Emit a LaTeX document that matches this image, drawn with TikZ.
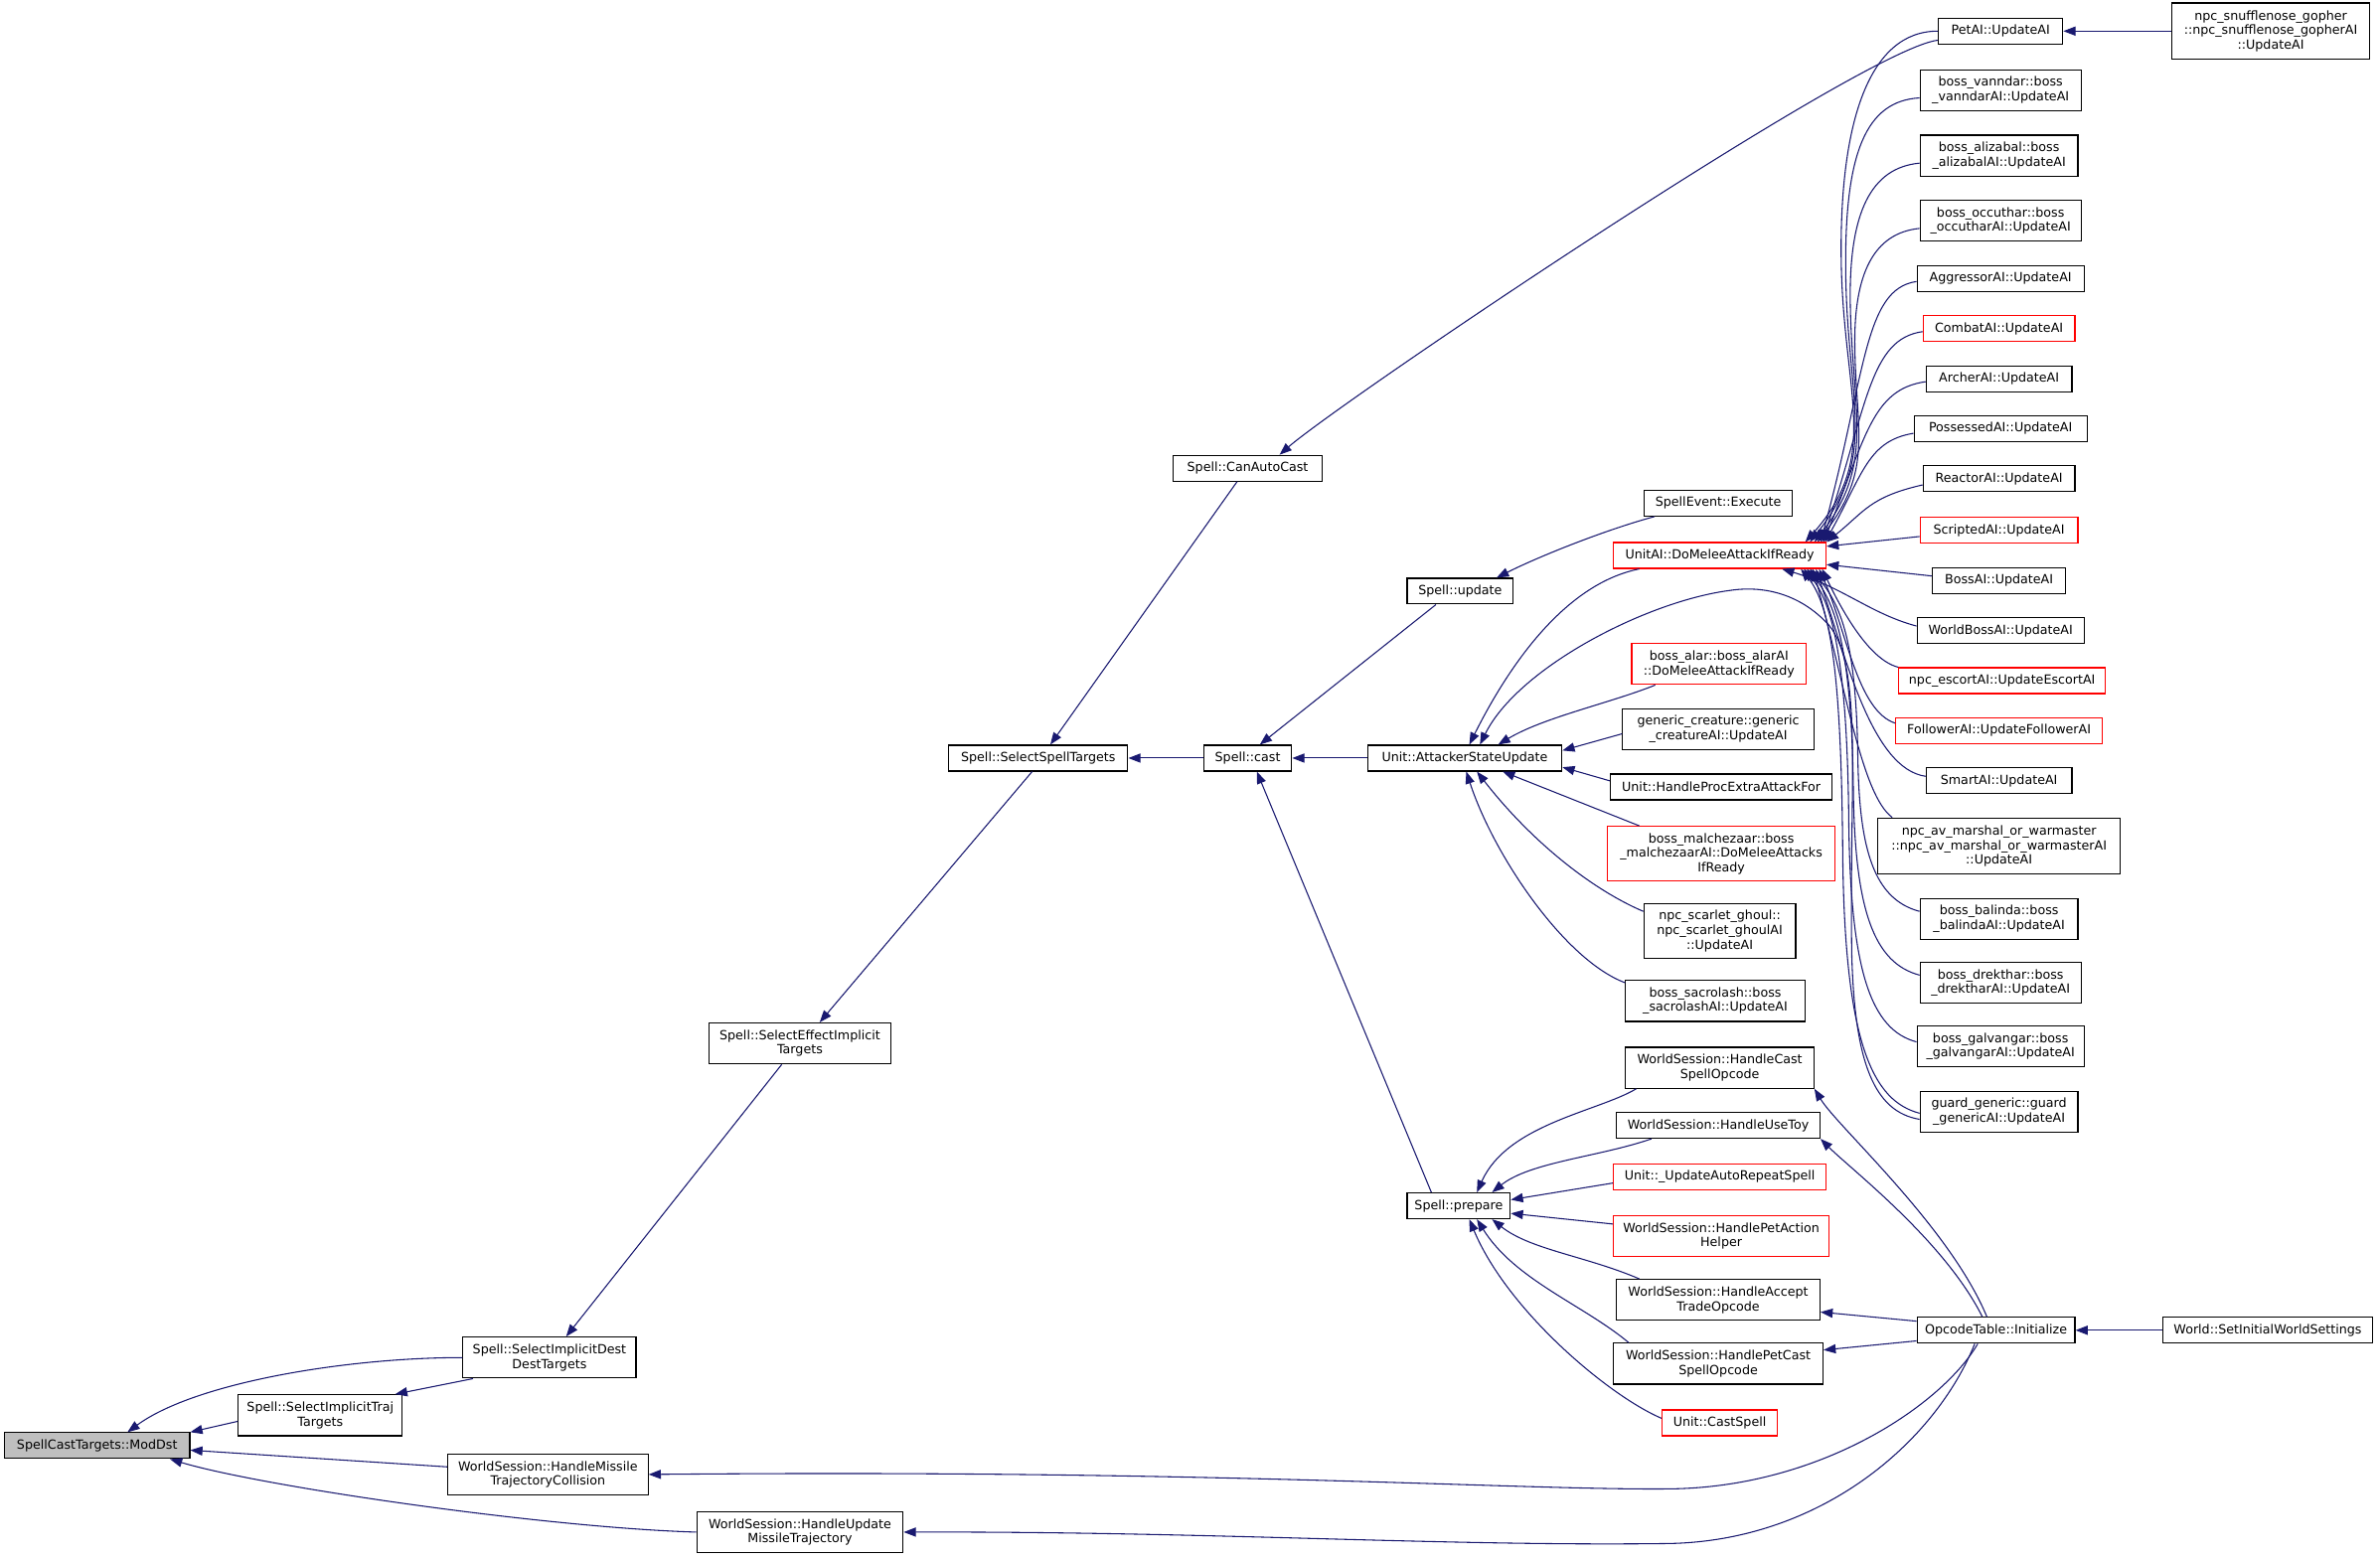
\documentclass[tikz,border=0pt]{standalone}
\usepackage{fontspec}
\setmainfont{DejaVu Sans}
\usetikzlibrary{arrows.meta}
\definecolor{navyc}{HTML}{191970}
\definecolor{grayfill}{HTML}{BFBFBF}
\begin{document}
\begin{tikzpicture}[x=1pt,y=-1pt,
  box/.style={draw=black, fill=white, line width=0.75pt, inner sep=0pt, align=center,
    font=\fontsize{8.3}{9.6}\selectfont},
  redbox/.style={box, draw=red},
  wh/.style 2 args={minimum width=#1pt, minimum height=#2pt},
  cg/.style={draw=navyc, line width=0.7pt, -{Triangle[length=8pt,width=6pt]}}]
\useasboundingbox[fill=white] (0,0) rectangle (1568,1027);

% ---------- nodes ----------
\node[box, wh={122}{17}, fill=grayfill] (moddst) at (64,952.5) {SpellCastTargets::ModDst};
\node[box, wh={114}{27}] (destdest) at (362,894.5) {Spell::SelectImplicitDest\\DestTargets};
\node[box, wh={108}{27}] (traj) at (211,932.5) {Spell::SelectImplicitTraj\\Targets};
\node[box, wh={132}{27}] (collision) at (361,971.5) {WorldSession::HandleMissile\\TrajectoryCollision};
\node[box, wh={136}{27}] (updmissile) at (527,1009.5) {WorldSession::HandleUpdate\\MissileTrajectory};
\node[box, wh={120}{27}] (effect) at (527,687.5) {Spell::SelectEffectImplicit\\Targets};
\node[box, wh={118}{17}] (spelltargets) at (684,499.5) {Spell::SelectSpellTargets};
\node[box, wh={98}{17}] (canauto) at (822,308.5) {Spell::CanAutoCast};
\node[box, wh={58}{17}] (cast) at (822,499.5) {Spell::cast};
\node[box, wh={70}{17}] (update) at (962,389.5) {Spell::update};
\node[box, wh={68}{17}] (prepare) at (961,794.5) {Spell::prepare};
\node[box, wh={128}{17}] (attacker) at (965,499.5) {Unit::AttackerStateUpdate};
\node[box, wh={98}{17}] (execute) at (1132,331.5) {SpellEvent::Execute};
\node[redbox, wh={140}{17}] (unitai) at (1133,366) {UnitAI::DoMeleeAttackIfReady};
\node[redbox, wh={115}{27}] (alar) at (1132.5,437.5) {boss\_alar::boss\_alarAI\\::DoMeleeAttackIfReady};
\node[box, wh={126}{27}] (generic) at (1132,480.5) {generic\_creature::generic\\\_creatureAI::UpdateAI};
\node[box, wh={146}{17}] (procextra) at (1134,518.5) {Unit::HandleProcExtraAttackFor};
\node[redbox, wh={150}{36}] (malchezaar) at (1134,562.5) {boss\_malchezaar::boss\\\_malchezaarAI::DoMeleeAttacks\\IfReady};
\node[box, wh={100}{36}] (scarlet) at (1133,613.5) {npc\_scarlet\_ghoul::\\npc\_scarlet\_ghoulAI\\::UpdateAI};
\node[box, wh={118}{27}] (sacrolash) at (1130,659.5) {boss\_sacrolash::boss\\\_sacrolashAI::UpdateAI};
\node[box, wh={124}{27}] (castopcode) at (1133,703.5) {WorldSession::HandleCast\\SpellOpcode};
\node[box, wh={134}{17}] (usetoy) at (1132,741.5) {WorldSession::HandleUseToy};
\node[redbox, wh={140}{17}] (autorepeat) at (1133,775.5) {Unit::\_UpdateAutoRepeatSpell};
\node[redbox, wh={142}{27}] (petaction) at (1134,814.5) {WorldSession::HandlePetAction\\Helper};
\node[box, wh={134}{27}] (accepttrade) at (1132,856.5) {WorldSession::HandleAccept\\TradeOpcode};
\node[box, wh={138}{27}] (petcast) at (1132,898.5) {WorldSession::HandlePetCast\\SpellOpcode};
\node[redbox, wh={76}{17}] (castspell) at (1133,937.5) {Unit::CastSpell};
\node[box, wh={104}{17}] (opcode) at (1315,876.5) {OpcodeTable::Initialize};
\node[box, wh={138}{17}] (world) at (1494,876.5) {World::SetInitialWorldSettings};
\node[box, wh={82}{17}] (petai) at (1318,20.5) {PetAI::UpdateAI};
\node[box, wh={130}{37}] (gopher) at (1496,20.5) {npc\_snufflenose\_gopher\\::npc\_snufflenose\_gopherAI\\::UpdateAI};
\node[box, wh={106}{27}] (vanndar) at (1318,59.5) {boss\_vanndar::boss\\\_vanndarAI::UpdateAI};
\node[box, wh={104}{27}] (alizabal) at (1317,102.5) {boss\_alizabal::boss\\\_alizabalAI::UpdateAI};
\node[box, wh={106}{27}] (occuthar) at (1318,145.5) {boss\_occuthar::boss\\\_occutharAI::UpdateAI};
\node[box, wh={110}{17}] (aggressor) at (1318,183.5) {AggressorAI::UpdateAI};
\node[redbox, wh={100}{17}] (combat) at (1317,216.5) {CombatAI::UpdateAI};
\node[box, wh={96}{17}] (archer) at (1317,249.5) {ArcherAI::UpdateAI};
\node[box, wh={114}{17}] (possessed) at (1318,282.5) {PossessedAI::UpdateAI};
\node[box, wh={100}{17}] (reactor) at (1317,315.5) {ReactorAI::UpdateAI};
\node[redbox, wh={104}{17}] (scripted) at (1317,349.5) {ScriptedAI::UpdateAI};
\node[box, wh={88}{17}] (boss) at (1317,382.5) {BossAI::UpdateAI};
\node[box, wh={110}{17}] (worldboss) at (1318,415.5) {WorldBossAI::UpdateAI};
\node[redbox, wh={136}{17}] (escort) at (1319,448.5) {npc\_escortAI::UpdateEscortAI};
\node[redbox, wh={136}{17}] (follower) at (1317,481.5) {FollowerAI::UpdateFollowerAI};
\node[box, wh={96}{17}] (smart) at (1317,514.5) {SmartAI::UpdateAI};
\node[box, wh={160}{37}] (avmarshal) at (1317,557.5) {npc\_av\_marshal\_or\_warmaster\\::npc\_av\_marshal\_or\_warmasterAI\\::UpdateAI};
\node[box, wh={104}{27}] (balinda) at (1317,605.5) {boss\_balinda::boss\\\_balindaAI::UpdateAI};
\node[box, wh={106}{27}] (drekthar) at (1318,647.5) {boss\_drekthar::boss\\\_drektharAI::UpdateAI};
\node[box, wh={110}{27}] (galvangar) at (1318,689.5) {boss\_galvangar::boss\\\_galvangarAI::UpdateAI};
\node[box, wh={104}{27}] (guard) at (1317,732.5) {guard\_generic::guard\\\_genericAI::UpdateAI};

% ---------- edges: left part ----------
\draw[cg] (destdest.west) .. controls +(-75,0) and +(45,-33) .. ([xshift=20pt]moddst.north);
\draw[cg] ([yshift=-4pt]traj.west) -- (moddst.north east);
\draw[cg] ([xshift=7pt]destdest.south west) -- ([xshift=-5pt]traj.north east);
\draw[cg] ([yshift=5pt]collision.west) -- ([yshift=-3pt]moddst.east);
\draw[cg] (updmissile.west) .. controls +(-100,-3) and +(60,18) .. ([xshift=48pt]moddst.south);
\draw[cg] ([xshift=-12pt]effect.south) -- ([xshift=11pt]destdest.north);
\draw[cg] ([xshift=-4pt]spelltargets.south) -- ([xshift=13pt]effect.north);
\draw[cg] ([xshift=-7pt]canauto.south) -- ([xshift=8pt]spelltargets.north);
\draw[cg] (cast.west) -- (spelltargets.east);
\draw[cg] ([yshift=-6pt]petai.west) .. controls +(-50,6) and +(40,-35) .. ([xshift=21pt]canauto.north);
\draw[cg] ([xshift=-16pt]update.south) -- ([xshift=8pt]cast.north);
\draw[cg] (attacker.west) -- (cast.east);
\draw[cg] ([xshift=-18pt]prepare.north) -- ([xshift=6pt]cast.south);
\draw[cg] ([xshift=-42pt]execute.south) .. controls +(-30,8) and +(30,-15) .. ([xshift=24pt]update.north);

% ---------- callers of AttackerStateUpdate ----------
\draw[cg] ([xshift=-53pt]unitai.south) .. controls +(-50,10) and +(25,-50) .. ([xshift=3pt]attacker.north);
\draw[cg] ([xshift=-42pt]alar.south) .. controls +(-30,12) and +(30,-18) .. ([xshift=22pt]attacker.north);
\draw[cg] ([yshift=-3pt]generic.west) -- ([yshift=5pt]attacker.east);
\draw[cg] ([yshift=4pt]procextra.west) -- ([yshift=-6pt]attacker.east);
\draw[cg] ([xshift=-54pt]malchezaar.north) -- ([xshift=25pt]attacker.south);
\draw[cg] ([yshift=13pt]scarlet.west) .. controls +(-35,-15) and +(35,45) .. ([xshift=8pt]attacker.south);
\draw[cg] ([yshift=12pt]sacrolash.west) .. controls +(-40,-15) and +(18,55) .. ([xshift=1pt]attacker.south);
\draw[cg] ([yshift=-5pt]guard.west) .. controls +(-30,-5) and (1222,700) .. (1220,630)
   .. controls (1218,520) and (1228,440) .. (1205,412)
   .. controls (1185,390) and (1160,386) .. (1140,389)
   .. controls (1085,396) and (1000,440) .. ([xshift=10pt]attacker.north);

% ---------- callers of Spell::prepare ----------
\draw[cg] ([xshift=-55pt]castopcode.south) .. controls +(-25,15) and +(20,-45) .. ([xshift=12pt]prepare.north);
\draw[cg] ([xshift=-44pt]usetoy.south) .. controls +(-35,12) and +(25,-20) .. ([xshift=22pt]prepare.north);
\draw[cg] ([yshift=-4pt]autorepeat.west) -- ([yshift=4pt]prepare.east);
\draw[cg] ([yshift=8pt]petaction.west) -- ([yshift=-5pt]prepare.east);
\draw[cg] ([xshift=-52pt]accepttrade.north) .. controls +(-35,-15) and +(25,20) .. ([xshift=22pt]prepare.south);
\draw[cg] ([xshift=-59pt]petcast.north) .. controls +(-30,-25) and +(25,40) .. ([xshift=12pt]prepare.south);
\draw[cg] ([yshift=3pt]castspell.west) .. controls +(-35,-15) and +(25,60) .. ([xshift=7pt]prepare.south);

% ---------- callers from OpcodeTable::Initialize ----------
\draw[cg] ([xshift=-6pt]opcode.north) .. controls +(-25,-60) and +(15,25) .. (castopcode.south east);
\draw[cg] ([xshift=-9pt]opcode.north) .. controls +(-25,-50) and +(20,20) .. (usetoy.south east);
\draw[cg] ([yshift=6pt]opcode.west) -- ([yshift=-8pt]accepttrade.east);
\draw[cg] ([yshift=-7pt]opcode.west) -- ([yshift=9pt]petcast.east);
\draw[cg] ([xshift=-12pt]opcode.south) .. controls (1280,925) and (1200,980) .. (1100,981)
   .. controls (1000,982) and (800,968) .. (collision.east);
\draw[cg] ([xshift=-14pt]opcode.south) .. controls (1275,950) and (1200,1015) .. (1100,1017)
   .. controls (950,1019) and (800,1009) .. (updmissile.east);
\draw[cg] (world.west) -- (opcode.east);
\draw[cg] (gopher.west) -- (petai.east);

% ---------- callers of UnitAI::DoMeleeAttackIfReady ----------
\draw[cg] (petai.west) .. controls +(-45,0) and (1212,80) .. (1213,170)
   .. controls (1214,260) and (1240,300) .. ([xshift=-14pt]unitai.north east);
\draw[cg] ([yshift=-5pt]vanndar.west) .. controls +(-35,2) and (1215,100) .. (1216,180)
   .. controls (1217,265) and (1238,300) .. ([xshift=-11pt]unitai.north east);
\draw[cg] ([yshift=-5pt]alizabal.west) .. controls +(-32,3) and (1218,140) .. (1219,200)
   .. controls (1220,270) and (1236,305) .. ([xshift=-8pt]unitai.north east);
\draw[cg] ([yshift=-5pt]occuthar.west) .. controls +(-30,3) and (1221,180) .. (1222,230)
   .. controls (1223,285) and (1234,310) .. ([xshift=-6pt]unitai.north east);
\draw[cg] ([yshift=-2pt]aggressor.west) .. controls +(-35,5) and +(30,-110) .. ([xshift=-4pt]unitai.north east);
\draw[cg] ([yshift=-2pt]combat.west) .. controls +(-35,5) and +(30,-90) .. ([xshift=-3pt]unitai.north east);
\draw[cg] ([yshift=-2pt]archer.west) .. controls +(-35,5) and +(28,-70) .. ([xshift=-2pt]unitai.north east);
\draw[cg] ([yshift=-3pt]possessed.west) .. controls +(-30,5) and +(25,-45) .. ([xshift=-1pt]unitai.north east);
\draw[cg] ([yshift=-4pt]reactor.west) .. controls +(-35,8) and +(25,-20) .. (unitai.north east);
\draw[cg] ([yshift=-4pt]scripted.west) -- ([yshift=6pt]unitai.east);
\draw[cg] ([yshift=3pt]boss.west) -- ([yshift=-6pt]unitai.east);
\draw[cg] ([yshift=3pt]worldboss.west) .. controls +(-30,-8) and +(40,12) .. ([xshift=41pt]unitai.south);
\draw[cg] (escort.north west) .. controls +(-20,-5) and +(12,25) .. ([xshift=-3pt]unitai.south east);
\draw[cg] ([yshift=5pt]follower.west) .. controls +(-25,-8) and +(18,40) .. ([xshift=-5pt]unitai.south east);
\draw[cg] ([yshift=3pt]smart.west) .. controls +(-35,-5) and +(20,60) .. ([xshift=-7pt]unitai.south east);
\draw[cg] ([xshift=10pt]avmarshal.north west) .. controls +(-20,-15) and +(22,80) .. ([xshift=-9pt]unitai.south east);
\draw[cg] ([yshift=5pt]balinda.west) .. controls +(-30,-8) and (1225,560) .. (1224,500)
   .. controls (1223,430) and (1215,400) .. ([xshift=-11pt]unitai.south east);
\draw[cg] ([yshift=5pt]drekthar.west) .. controls +(-30,-8) and (1222,600) .. (1221,520)
   .. controls (1220,440) and (1212,400) .. ([xshift=-13pt]unitai.south east);
\draw[cg] ([yshift=3pt]galvangar.west) .. controls +(-30,-8) and (1219,640) .. (1218,540)
   .. controls (1217,450) and (1210,400) .. ([xshift=-15pt]unitai.south east);
\draw[cg] ([yshift=-1pt]guard.west) .. controls +(-30,-8) and (1215,690) .. (1214,560)
   .. controls (1213,450) and (1207,400) .. ([xshift=-17pt]unitai.south east);
\end{tikzpicture}
\end{document}
